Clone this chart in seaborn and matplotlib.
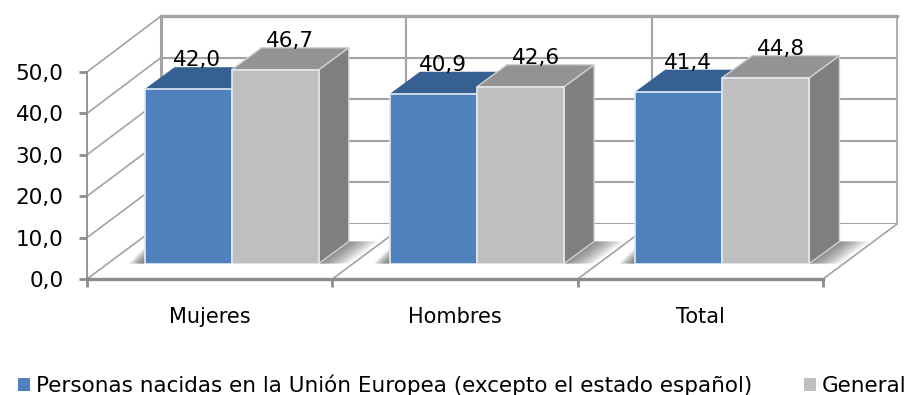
import matplotlib
matplotlib.use("Agg")
import matplotlib.pyplot as plt
import pandas as pd
import seaborn as sns
from matplotlib.patches import ConnectionPatch, Polygon
from matplotlib.transforms import IdentityTransform

categories = ["Mujeres", "Hombres", "Total"]
serie_ue = [42.0, 40.9, 41.4]
serie_general = [46.7, 42.6, 44.8]
nombre_ue = "Personas nacidas en la Unión Europea (excepto el estado español)"
nombre_general = "General"
y_ticks = [0, 10, 20, 30, 40, 50]

W, H = 909, 395
GRID = "#a3a3a3"
AXIS = "#8c8c8c"
BLUE, GRAY = "#4f81bd", "#bfbfbf"
TOP = {0: "#376092", 1: "#939393"}
SIDE = {0: "#2f5482", 1: "#7f7f7f"}
DEPTH = (30, 22)
LABEL_DX = {0: 9, 1: 15}

sns.set_style("white")
plt.rcParams["font.family"] = ["DejaVu Sans"]
fig = plt.figure(figsize=(W / 100, H / 100), dpi=100, facecolor="white")


def axes_px(left, right, bottom, top, z):
    a = fig.add_axes([left / W, (H - bottom) / H, (right - left) / W, (bottom - top) / H], zorder=z)
    a.set_xlim(-0.5, 2.5)
    a.set_ylim(0, 50)
    a.patch.set_alpha(0)
    return a


back = axes_px(161, 897, 224, 16, 0)
front = axes_px(87, 823, 279, 72, 1)
ax = axes_px(109, 845, 263.5, 56, 2)

# back wall
back.set_xticks([0.5, 1.5])
back.set_yticks(y_ticks)
back.tick_params(length=0, labelleft=False, labelbottom=False)
back.grid(True, color=GRID, lw=1.5)
for s, lw in {"left": 2.2, "top": 2.4, "right": 1.2, "bottom": 1.2}.items():
    back.spines[s].set_color(GRID)
    back.spines[s].set_linewidth(lw)
sns.despine(ax=back, bottom=True)
back.spines["top"].set_visible(True)
back.spines["right"].set_visible(True)

# front axis
front.set_xticks([0, 1, 2], categories)
front.set_xticks([-0.5, 0.5, 1.5, 2.5], minor=True)
front.set_yticks(y_ticks, [f"{v:.1f}".replace(".", ",") for v in y_ticks], va="center_baseline")
front.tick_params(axis="x", which="major", length=0, pad=20.5, labelsize=15, colors="black")
front.tick_params(axis="x", which="minor", length=6, width=2, color=AXIS, direction="out", bottom=True)
front.tick_params(axis="y", length=6, width=2, color=AXIS, direction="out", pad=11, labelsize=15.5, labelcolor="black", left=True)
for s in ("top", "right"):
    front.spines[s].set_visible(False)
front.spines["left"].set_color(AXIS)
front.spines["left"].set_linewidth(1.3)
front.spines["bottom"].set_color(AXIS)
front.spines["bottom"].set_linewidth(2.4)

# slanted wall and floor lines
for v in y_ticks:
    fig.add_artist(ConnectionPatch((-0.5, v), (-0.5, v), front.transData, back.transData, color=GRID, lw=1.2, zorder=0))
for xv in (0.5, 1.5, 2.5):
    fig.add_artist(ConnectionPatch((xv, 0), (xv, 0), front.transData, back.transData, color=GRID, lw=1.2, zorder=0))

# bars
df = pd.DataFrame({
    "categoria": categories * 2,
    "valor": serie_ue + serie_general,
    "serie": [nombre_ue] * 3 + [nombre_general] * 3,
})
sns.barplot(data=df, x="categoria", y="valor", hue="serie", hue_order=[nombre_ue, nombre_general],
            palette=[BLUE, GRAY], width=0.71, gap=0, edgecolor="#e3e9f1", linewidth=1.2,
            saturation=1, errorbar=None, ax=ax, zorder=5)
ax.set_xlim(-0.5, 2.5)
ax.set_ylim(0, 50)
ax.axis("off")


def poly(points, color, z, alpha=1.0, edge="none", lw=0):
    ax.add_patch(Polygon(points, closed=True, facecolor=color, edgecolor=edge, linewidth=lw, alpha=alpha,
                         transform=IdentityTransform(), zorder=z, clip_on=False))


dx, dy = DEPTH
for si, cont in enumerate(ax.containers):
    for bar, val in zip(cont.patches, cont.datavalues):
        x0, y0 = ax.transData.transform((bar.get_x(), 0))
        x1, y1 = ax.transData.transform((bar.get_x() + bar.get_width(), val))
        edge = "#d0d0d0" if si == 1 else "none"
        # soft floor shadows
        if si == 1:
            for k in range(14):
                ext = dx * (1 - k / 14)
                poly([(x1, y0), (x1 + dx, y0 + dy), (x1 + dx + ext, y0 + dy), (x1 + ext, y0)], "#444444", 1, alpha=0.06)
        else:
            for k in range(12):
                ext = 16 * (1 - k / 12)
                poly([(x0, y0), (x0, y0 + ext), (x0 - ext, y0)], "#444444", 1, alpha=0.09)
        poly([(x1, y0), (x1 + dx, y0 + dy), (x1 + dx, y1 + dy), (x1, y1)], SIDE[si], 2 + si * 0.1, edge=edge, lw=1)
        poly([(x0, y1), (x1, y1), (x1 + dx, y1 + dy), (x0 + dx, y1 + dy)], TOP[si], 2 + si * 0.1, edge=edge, lw=1)
        ax.annotate(f"{val:.1f}".replace(".", ","), (bar.get_x() + bar.get_width() / 2, val),
                    xytext=(LABEL_DX[si] * 0.72, 29 * 0.72), textcoords="offset points",
                    ha="center", va="center", fontsize=15.5, color="black", zorder=7, annotation_clip=False)

leg = ax.legend(loc="center left", bbox_to_anchor=(18 / W, (H - 385) / H), bbox_transform=fig.transFigure,
                ncol=2, frameon=False, fontsize=15.45, handlelength=0.55, handleheight=0.55, handletextpad=0.3,
                columnspacing=2.4, borderpad=0, borderaxespad=0, labelcolor="black")
for h in leg.legend_handles:
    h.set_edgecolor("none")

fig.savefig("out.png", dpi=100, facecolor="white")
